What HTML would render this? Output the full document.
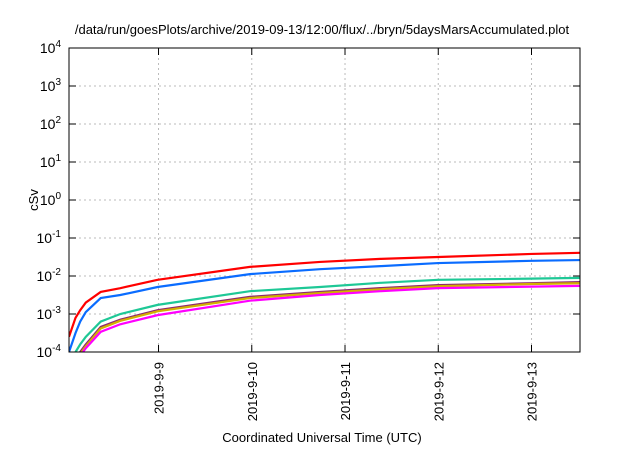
<!DOCTYPE html>
<html><head><meta charset="utf-8"><style>
body{margin:0;background:#fff}
svg text{font-family:"Liberation Sans",sans-serif;fill:#000}
</style></head><body>
<svg id="c" width="640" height="448"></svg>
<script>
const days=[0.04,0.11,0.16,0.22,0.38,0.59,0.99,1.98,2.73,3.38,4.0,5.0,5.52];
const red=[-3.6,-3.1,-2.9,-2.7,-2.42,-2.32,-2.1,-1.76,-1.63,-1.55,-1.5,-1.42,-1.39];
const blue=[-4.0,-3.5,-3.2,-2.95,-2.58,-2.5,-2.29,-1.95,-1.82,-1.74,-1.66,-1.6,-1.58];
const green=[-4.2,-4.0,-3.8,-3.6,-3.2,-3.0,-2.76,-2.4,-2.29,-2.18,-2.1,-2.07,-2.05];
const purple=[-4.3,-4.2,-4.0,-3.8,-3.34,-3.15,-2.9,-2.55,-2.42,-2.32,-2.24,-2.19,-2.16];
const yellow=[-4.3,-4.2,-4.05,-3.85,-3.38,-3.18,-2.93,-2.58,-2.45,-2.35,-2.27,-2.21,-2.19];
const magenta=[-4.3,-4.25,-4.1,-3.9,-3.47,-3.27,-3.03,-2.65,-2.5,-2.4,-2.32,-2.28,-2.26];
const seriesColors=["#ff0000","#0a6cff","#1ec896","#8b2a6e","#d4b000","#ff00ff"];
const xTickLabels=["2019-9-9","2019-9-10","2019-9-11","2019-9-12","2019-9-13"];
const xTickDays=[1,2,3,4,5];
const yExps=[-4,-3,-2,-1,0,1,2,3,4];
const L=69,R=580,T=48,B=352,d0=0.04,d1=5.52;
const X=d=>L+(d-d0)/(d1-d0)*(R-L);
const Y=e=>B-(e+4)/8*(B-T);
const svg=document.getElementById('c');const NS='http://www.w3.org/2000/svg';
function mk(t,a,p){const e=document.createElementNS(NS,t);for(const k in a)e.setAttribute(k,a[k]);(p||svg).appendChild(e);return e;}
let e;
yExps.forEach(v=>{const y=Y(v);
 if(v>-4&&v<4){e=mk('line',{x1:L,x2:R,y1:y,y2:y,stroke:'#bbb','stroke-dasharray':'2,3','stroke-width':1});}
 mk('line',{x1:L,x2:L+7,y1:y,y2:y,stroke:'#000'});mk('line',{x1:R-7,x2:R,y1:y,y2:y,stroke:'#000'});
 e=mk('text',{x:L-8,y:y+5,'text-anchor':'end','font-size':14});
 e.innerHTML='10<tspan dy="-6" font-size="10">'+v+'</tspan>';});
xTickDays.forEach((d,i)=>{const x=X(d);
 e=mk('line',{x1:x,x2:x,y1:T,y2:B,stroke:'#bbb','stroke-dasharray':'2,3'});
 mk('line',{x1:x,x2:x,y1:B-7,y2:B,stroke:'#000'});mk('line',{x1:x,x2:x,y1:T,y2:T+7,stroke:'#000'});
 e=mk('text',{x:0,y:0,'text-anchor':'end','font-size':13,transform:`translate(${x+5},${B+10}) rotate(-90)`});e.textContent=xTickLabels[i];});
[red,blue,green,purple,yellow,magenta].forEach((s,i)=>{
 const pts=s.map((v,j)=>X(days[j])+','+Y(Math.max(v,-4.3))).join(' ');
 e=mk('polyline',{points:pts,fill:'none',stroke:seriesColors[i],'stroke-width':2.2,'clip-path':'url(#cp)'});
 });
const cp=mk('clipPath',{id:'cp'});mk('rect',{x:L,y:T,width:R-L,height:B-T},cp);
e=mk('rect',{x:L,y:T,width:R-L,height:B-T,fill:'none',stroke:'#000','stroke-width':1});
e=mk('text',{x:322,y:34,'text-anchor':'middle','font-size':13});e.textContent='/data/run/goesPlots/archive/2019-09-13/12:00/flux/../bryn/5daysMarsAccumulated.plot';
e=mk('text',{x:0,y:0,'text-anchor':'middle','font-size':13,transform:'translate(38,200) rotate(-90)'});e.textContent='cSv';
e=mk('text',{x:322,y:442,'text-anchor':'middle','font-size':13});e.textContent='Coordinated Universal Time (UTC)';
</script></body></html>
